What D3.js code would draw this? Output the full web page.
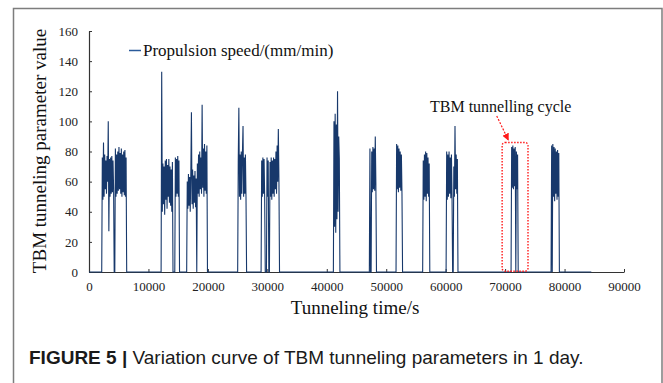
<!DOCTYPE html>
<html>
<head>
<meta charset="utf-8">
<script src="https://cdn.jsdelivr.net/npm/d3@7"></script>
<style>
  html, body { margin: 0; padding: 0; background: #fff; }
  svg { display: block; }
</style>
</head>
<body>
<div id="chart"></div>
<script>
// propulsion speed samples, one every sampleStep seconds, per tunnelling burst
const sampleStep = 100;
const endTime = 84500;
const burstStart = [2240, 12230, 16530, 25110, 29050, 41210, 47260, 51750, 56230, 60170, 71100, 77830];
const burstValues = [
  [76, 48, 86, 50, 78, 55, 74, 52, 77, 60, 100, 27, 75, 50, 76, 52, 77, 53, 74, 55, 0, 0,
   82, 50, 78, 52, 80, 54, 83, 55, 79, 52, 82, 50, 78, 53, 80, 51, 81, 50, 76],
  [133, 40, 72, 45, 70, 38, 74, 48, 75, 42, 71, 50, 75, 46, 70, 44, 68, 40, 73, 0, 0, 0, 0,
   76, 50, 75, 52, 77, 50, 74],
  [60, 42, 65, 44, 63, 40, 66, 106, 45, 68, 42, 64, 46, 67, 43, 62, 0,
   72, 52, 78, 50, 80, 55, 76, 52, 111, 56, 82, 50, 85, 54, 80, 52, 84],
  [75, 109, 50, 78, 48, 80, 52, 79, 97, 50, 76, 52, 78, 50],
  [74, 50, 76, 52, 75, 50, 0, 0, 0, 76, 50, 74, 0, 0,
   73, 50, 76, 48, 74, 52, 76, 50, 75, 55, 80, 52, 84, 60, 95, 62],
  [100, 30, 105, 26, 98, 35, 120, 40, 90, 75],
  [82, 0, 0, 80, 53, 83, 55, 82, 54, 90, 58],
  [85, 55, 84, 53, 82, 56, 80, 54, 78, 52],
  [74, 48, 78, 50, 80, 47, 79, 52, 76, 50, 72],
  [80, 48, 78, 50, 80, 52, 76, 49, 78, 50, 0, 0, 70, 50, 97, 55, 78, 52, 75],
  [83, 56, 84, 55, 82, 57, 83, 0, 80, 55, 78],
  [84, 0, 85, 50, 83, 47, 82, 52, 80, 48, 81, 50, 79]
];
const xTicks = [0, 10000, 20000, 30000, 40000, 50000, 60000, 70000, 80000, 90000];
const yTicks = [0, 20, 40, 60, 80, 100, 120, 140, 160];

// build the time series
const series = [[0, 0]];
burstStart.forEach(function(t0, i) {
  const vals = burstValues[i];
  series.push([t0 - sampleStep, 0]);
  vals.forEach((v, j) => series.push([t0 + j * sampleStep, v]));
  series.push([t0 + vals.length * sampleStep, 0]);
});
series.push([endTime, 0]);

const width = 663;
const height = 383;
const serif = '"Liberation Serif", "Times New Roman", serif';

const svg = d3.create('svg')
  .attr('width', width)
  .attr('height', height);

// outer figure frame
svg.append('rect')
  .attr('x', 13.5).attr('y', 8.5)
  .attr('width', 648.5).attr('height', 420)
  .attr('fill', 'none')
  .attr('stroke', '#7d7d7d')
  .attr('stroke-width', 1.5);

const x = d3.scaleLinear().domain([0, 90000]).range([89, 624]);
const y = d3.scaleLinear().domain([0, 160]).range([272, 31]);

// axes, ticks point inward
const xAxis = svg.append('g')
  .attr('transform', `translate(0, ${y(0)})`)
  .call(d3.axisBottom(x).tickValues(xTicks).tickSizeInner(-3).tickSizeOuter(0).tickPadding(10).tickFormat(d3.format('d')));
const yAxis = svg.append('g')
  .attr('transform', `translate(${x(0)}, 0)`)
  .call(d3.axisLeft(y).tickValues(yTicks).tickSizeInner(-3).tickSizeOuter(0).tickPadding(11));

[xAxis, yAxis].forEach(function(g) {
  g.select('.domain').attr('stroke', '#333').attr('stroke-width', 1.2);
  g.selectAll('.tick line').attr('stroke', '#333');
  g.selectAll('.tick text')
    .attr('fill', '#222')
    .attr('font-family', serif)
    .attr('font-size', '13px');
});

// data line
const line = d3.line()
  .x(d => x(d[0]))
  .y(d => y(d[1]));

svg.append('path')
  .datum(series)
  .attr('fill', 'none')
  .attr('stroke', '#17386b')
  .attr('stroke-width', 1.1)
  .attr('d', line);

// axis titles
svg.append('text')
  .attr('x', 355).attr('y', 314)
  .attr('text-anchor', 'middle')
  .attr('font-family', serif)
  .attr('font-size', '19px')
  .attr('fill', '#111')
  .text('Tunneling time/s');

svg.append('text')
  .attr('transform', 'translate(46, 151) rotate(-90)')
  .attr('text-anchor', 'middle')
  .attr('font-family', serif)
  .attr('font-size', '19px')
  .attr('fill', '#111')
  .text('TBM tunneling parameter value');

// legend
svg.append('line')
  .attr('x1', 129).attr('x2', 141)
  .attr('y1', 50.5).attr('y2', 50.5)
  .attr('stroke', '#2a5a9a')
  .attr('stroke-width', 1.5);
svg.append('text')
  .attr('x', 143).attr('y', 55.5)
  .attr('font-family', serif)
  .attr('font-size', '17px')
  .attr('fill', '#111')
  .text('Propulsion speed/(mm/min)');

// annotation: tunnelling cycle
svg.append('defs').append('marker')
  .attr('id', 'arrow')
  .attr('viewBox', '0 0 10 10')
  .attr('refX', 9).attr('refY', 5)
  .attr('markerWidth', 6).attr('markerHeight', 6)
  .attr('orient', 'auto')
  .append('path')
  .attr('d', 'M0,0 L10,5 L0,10 z')
  .attr('fill', '#ff1a1a');

svg.append('rect')
  .attr('x', x(69500)).attr('y', y(86))
  .attr('width', x(73850) - x(69500))
  .attr('height', y(0.5) - y(86))
  .attr('rx', 3)
  .attr('fill', 'none')
  .attr('stroke', '#ff1a1a')
  .attr('stroke-width', 1.4)
  .attr('stroke-dasharray', '1.5,1.5');

svg.append('line')
  .attr('x1', x(68590)).attr('y1', y(103.6))
  .attr('x2', x(70540)).attr('y2', y(87.6))
  .attr('stroke', '#ff1a1a')
  .attr('stroke-width', 1.2)
  .attr('stroke-dasharray', '2,1.5')
  .attr('marker-end', 'url(#arrow)');

svg.append('text')
  .attr('x', 430).attr('y', 112)
  .attr('font-family', serif)
  .attr('font-size', '16px')
  .attr('fill', '#111')
  .text('TBM tunnelling cycle');

// caption
const caption = svg.append('text')
  .attr('x', 29).attr('y', 364)
  .attr('font-family', '"Liberation Sans", Arial, sans-serif')
  .attr('font-size', '19px')
  .attr('fill', '#1a1a1a');
caption.append('tspan').attr('font-weight', 'bold').text('FIGURE 5 |');
caption.append('tspan').text(' Variation curve of TBM tunneling parameters in 1 day.');

document.getElementById('chart').appendChild(svg.node());
</script>
</body>
</html>
